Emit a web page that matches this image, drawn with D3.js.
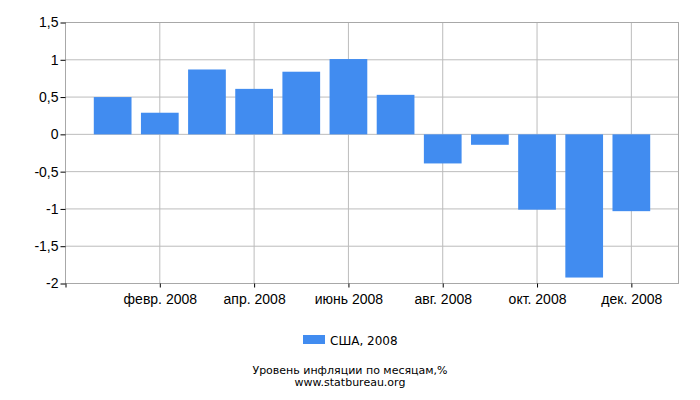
<!DOCTYPE html>
<html>
<head>
<meta charset="utf-8">
<script src="https://cdn.jsdelivr.net/npm/d3@7"></script>
<style>
  body { margin: 0; background: #fff; }
  svg { font-family: "DejaVu Sans", sans-serif; }
</style>
</head>
<body>
<script>
// данные
let months = [1, 2, 3, 4, 5, 6, 7, 8, 9, 10, 11, 12];
let values = [0.5, 0.29, 0.87, 0.61, 0.84, 1.01, 0.53, -0.39, -0.14, -1.01, -1.92, -1.03];
let yTicks = [-2, -1.5, -1, -0.5, 0, 0.5, 1, 1.5];
let xTicks = [2, 4, 6, 8, 10, 12];
let xTickLabels = ['февр. 2008', 'апр. 2008', 'июнь 2008', 'авг. 2008', 'окт. 2008', 'дек. 2008'];
let seriesName = 'США, 2008';
let title = 'Уровень инфляции по месяцам,%';
let source = 'www.statbureau.org';

let width = 700,
    height = 400,
    pLeft = 65.5,
    pRight = 678.5,
    pTop = 22.5,
    pBottom = 283.5;

let svg = d3.select('body')
    .append('svg')
    .attr('width', width)
    .attr('height', height);

let x = d3.scaleLinear().domain([0, 13]).range([pLeft, pRight]);
let y = d3.scaleLinear().domain([-2, 1.5]).range([pBottom, pTop]);
let step = x(1) - x(0);
let w = step * 0.8;

// сетка
svg.selectAll('line.hgrid')
    .data(yTicks)
    .enter()
    .append('line')
    .attr('class', 'hgrid')
    .attr('x1', pLeft).attr('x2', pRight)
    .attr('y1', d => y(d)).attr('y2', d => y(d))
    .attr('stroke', '#bcbcbc');

svg.selectAll('line.vgrid')
    .data(xTicks)
    .enter()
    .append('line')
    .attr('class', 'vgrid')
    .attr('x1', d => x(d)).attr('x2', d => x(d))
    .attr('y1', pTop).attr('y2', pBottom)
    .attr('stroke', '#bcbcbc');

// рамка
svg.append('rect')
    .attr('x', pLeft).attr('y', pTop)
    .attr('width', pRight - pLeft).attr('height', pBottom - pTop)
    .attr('fill', 'none')
    .attr('stroke', '#a8a8a8');

// столбцы
svg.selectAll('rect.bar')
    .data(values)
    .enter()
    .append('rect')
    .attr('class', 'bar')
    .attr('x', (d, i) => x(months[i]) - w / 2)
    .attr('y', d => y(Math.max(0, d)))
    .attr('width', w)
    .attr('height', d => Math.abs(y(d) - y(0)))
    .attr('fill', '#418cf0');

// оси
let fmt = d => String(d).replace('.', ',');
let axisY = d3.axisLeft(y).tickValues(yTicks).tickFormat(fmt).tickSize(5).tickPadding(2);
let gy = svg.append('g').attr('transform', `translate(${pLeft},0)`).call(axisY);
gy.select('.domain').remove();
gy.selectAll('text').attr('font-size', '14px').attr('fill', '#000');
gy.selectAll('line').attr('stroke', '#000');

let axisX = d3.axisBottom(x).tickValues([0].concat(xTicks))
    .tickFormat(d => d === 0 ? '' : xTickLabels[xTicks.indexOf(d)])
    .tickSize(4).tickPadding(7);
let gx = svg.append('g').attr('transform', `translate(0,${pBottom})`).call(axisX);
gx.select('.domain').remove();
gx.selectAll('text').attr('font-size', '14px').attr('fill', '#000');
gx.selectAll('line').attr('stroke', '#000');

// легенда
svg.append('rect')
    .attr('x', 303).attr('y', 335)
    .attr('width', 22).attr('height', 9)
    .attr('fill', '#418cf0');
svg.append('text')
    .attr('x', 330).attr('y', 345)
    .attr('font-size', '12px')
    .text(seriesName);

svg.append('text')
    .attr('x', width / 2).attr('y', 374)
    .attr('text-anchor', 'middle')
    .attr('font-size', '11px')
    .text(title);
svg.append('text')
    .attr('x', width / 2).attr('y', 386)
    .attr('text-anchor', 'middle')
    .attr('font-size', '11px')
    .text(source);
</script>
</body>
</html>
